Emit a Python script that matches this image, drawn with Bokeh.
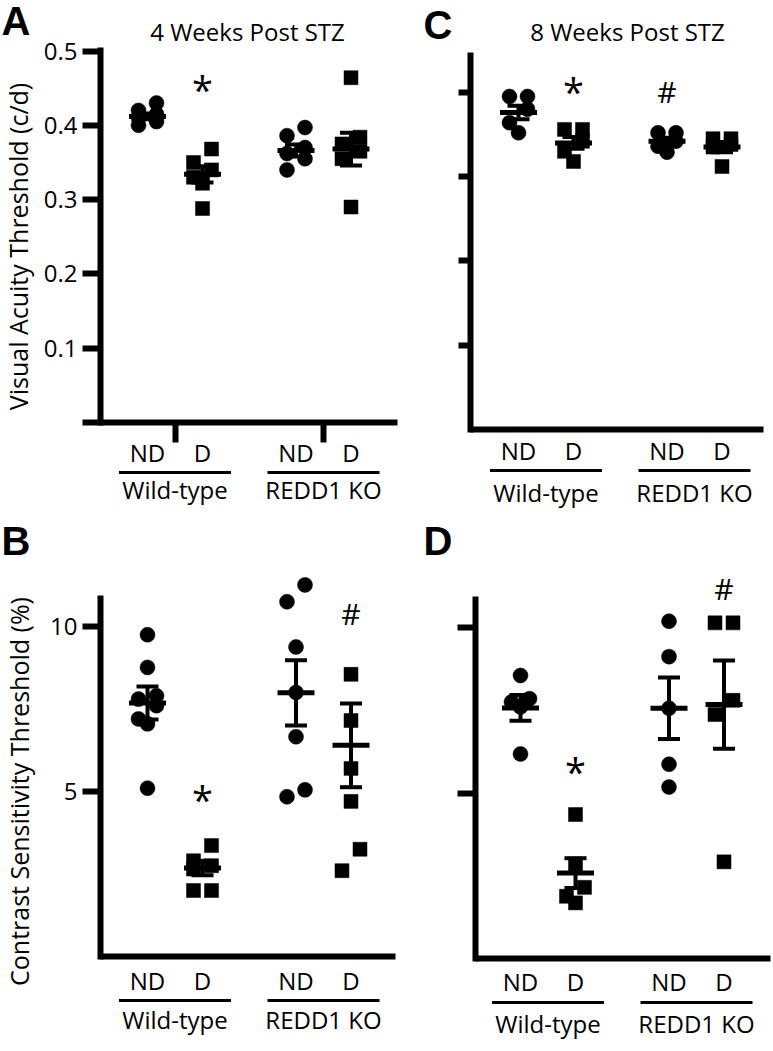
import math
from bokeh.plotting import figure
from bokeh.models import Range1d, FixedTicker, CustomJSTickFormatter
from bokeh.layouts import column, row
from bokeh.embed import file_html
from bokeh.resources import INLINE
from bokeh.core.properties import value

# ------------------------------------------------------------------ data
sub_labels = ["ND", "D", "ND", "D"]
group_names = ["Wild-type", "REDD1 KO"]
col_pos = [1.0, 2.0, 3.7, 4.7]
col_marker = ["circle", "square", "circle", "square"]

# A: visual acuity, 4 weeks
a_title = "4 Weeks Post STZ"
a_ylabel = "Visual Acuity Threshold (c/d)"
a_wt_nd = [0.43, 0.42, 0.415, 0.41, 0.405, 0.40]
a_wt_d = [0.368, 0.35, 0.34, 0.33, 0.322, 0.288]
a_ko_nd = [0.397, 0.386, 0.37, 0.362, 0.355, 0.34]
a_ko_d = [0.464, 0.384, 0.375, 0.365, 0.355, 0.29]
a_mean = [0.412, 0.334, 0.366, 0.368]
a_sem = [0.004, 0.011, 0.008, 0.022]
a_sig_col = [1]
a_sig_txt = ["*"]
a_sig_y = [0.456]
a_yticks = [0, 0.1, 0.2, 0.3, 0.4, 0.5]

# C: visual acuity, 8 weeks
c_title = "8 Weeks Post STZ"
c_wt_nd = [0.395, 0.395, 0.38, 0.364, 0.352]
c_wt_d = [0.356, 0.356, 0.342, 0.33, 0.318]
c_ko_nd = [0.352, 0.352, 0.342, 0.336, 0.329]
c_ko_d = [0.345, 0.345, 0.338, 0.335, 0.312]
c_mean = [0.376, 0.340, 0.342, 0.335]
c_sem = [0.008, 0.007, 0.004, 0.006]
c_sig_col = [1, 2]
c_sig_txt = ["*", "#"]
c_sig_y = [0.408, 0.399]
c_yticks = [0.1, 0.2, 0.3, 0.4]

# B: contrast sensitivity, 4 weeks
b_ylabel = "Contrast Sensitivity Threshold (%)"
b_wt_nd = [9.75, 8.76, 7.9, 7.8, 7.6, 7.2, 7.05, 5.1]
b_wt_d = [3.36, 2.9, 2.75, 2.65, 2.0, 2.0]
b_ko_nd = [11.26, 10.75, 9.38, 8.0, 6.66, 5.05, 4.84]
b_ko_d = [8.55, 7.15, 5.7, 4.7, 3.25, 2.6]
b_mean = [7.68, 2.68, 7.99, 6.4]
b_sem = [0.5, 0.22, 0.99, 1.27]
b_sig_col = [1, 3]
b_sig_txt = ["*", "#"]
b_sig_y = [4.94, 10.33]
b_yticks = [5, 10]

# D: contrast sensitivity, 8 weeks
d_wt_nd = [8.55, 7.85, 7.75, 7.6, 6.18]
d_wt_d = [4.35, 2.85, 2.15, 1.88, 1.68]
d_ko_nd = [10.19, 9.12, 7.56, 5.87, 5.18]
d_ko_d = [10.14, 10.14, 7.8, 7.37, 2.92]
d_mean = [7.57, 2.58, 7.56, 7.67]
d_sem = [0.39, 0.45, 0.93, 1.33]
d_sig_col = [1, 3]
d_sig_txt = ["*", "#"]
d_sig_y = [5.83, 11.12]
d_yticks = [5, 10]

# ------------------------------------------------------------------ style
FONT = "Open Sans"
LETTER_FONT = "Liberation Sans"
INK = "black"
PX_PER_COL = 55.0
BASE_FIX = 0.42   # em: shift of the rendered alphabetic baseline


def swarm_offsets(vals, ppu, h_px=22, dx_px=9):
    """Prism-like pairing: neighbouring values closer than h_px sit side by side."""
    order = sorted(range(len(vals)), key=lambda i: -vals[i])
    off = [0.0] * len(vals)
    i = 0
    while i < len(order):
        a = order[i]
        if i + 1 < len(order) and (vals[a] - vals[order[i + 1]]) * ppu <= h_px:
            b = order[i + 1]
            off[a] = dx_px
            off[b] = -dx_px
            i += 2
        else:
            i += 1
    return off


def make_panel(g, groups, means, sems, sig_col, sig_txt, sig_y, yticks, fmt,
               title=None, ylabel=None, letter=None):
    zero, ppu, col1 = g["zero"], g["ppu"], g["col1"]

    def dx(px):
        return 1.0 + (px - col1) / PX_PER_COL

    def dy(py):
        return (zero - py) / ppu

    p = figure(width=g["w"], height=g["h"],
               x_range=Range1d(dx(g["x0"]), dx(g["x0"] + g["w"])),
               y_range=Range1d(dy(g["y0"] + g["h"]), dy(g["y0"])),
               x_axis_location="below", y_axis_location="left",
               toolbar_location=None, output_backend="svg",
               min_border_left=0, min_border_right=0,
               min_border_top=0, min_border_bottom=0,
               outline_line_color=None, background_fill_color="white",
               border_fill_color="white")
    p.grid.visible = False

    # y axis, placed at its own x position inside the panel
    ax = p.yaxis[0]
    ax.fixed_location = dx(g["yaxis_px"])
    ax.ticker = FixedTicker(ticks=yticks)
    ax.formatter = CustomJSTickFormatter(code=fmt)
    ax.bounds = (-3.0 / ppu, dy(g["axis_top"]))
    ax.axis_line_width = 6
    ax.axis_line_color = INK
    ax.major_tick_line_width = 6
    ax.major_tick_line_color = INK
    ax.major_tick_in = 0
    ax.major_tick_out = g["tick_out"]
    ax.minor_tick_line_color = None
    ax.major_label_text_font = FONT
    ax.major_label_text_font_size = "24px"
    ax.major_label_text_color = INK
    ax.major_label_standoff = 5

    # x axis at zero
    gc = [(col_pos[0] + col_pos[1]) / 2, (col_pos[2] + col_pos[3]) / 2]
    xa = p.xaxis[0]
    xa.fixed_location = 0
    xa.bounds = (dx(g["yaxis_px"]), dx(g["xend_px"]))
    xa.ticker = FixedTicker(ticks=gc if g.get("xticks") else [])
    xa.formatter = CustomJSTickFormatter(code="return '';")
    xa.axis_line_width = 6
    xa.axis_line_color = INK
    xa.major_tick_line_width = 6
    xa.major_tick_line_color = INK
    xa.major_tick_in = 0
    xa.major_tick_out = 20
    xa.minor_tick_line_color = None

    def put_text(px, py_base, texts, fs, font=FONT, align="center", style="normal",
                 vertical=False):
        if vertical:
            xs_ = [dx(px - BASE_FIX * fs)] * len(texts)
            ys_ = [dy(py_base)] * len(texts)
            ang = math.pi / 2
        else:
            xs_ = px if isinstance(px, list) else [px] * len(texts)
            xs_ = [dx(v) for v in xs_]
            ys_ = [dy(py_base - BASE_FIX * fs)] * len(texts)
            ang = 0
        p.text(x=xs_, y=ys_, text=texts, angle=ang,
               text_font=value(font), text_font_size=f"{fs}px",
               text_font_style=style, text_align=align,
               text_baseline="alphabetic", text_color=INK)

    # points
    for k, vals in enumerate(groups):
        offs = swarm_offsets(vals, ppu)
        xpts = [col_pos[k] + o / PX_PER_COL for o in offs]
        size = 15 if col_marker[k] == "circle" else 14
        p.scatter(xpts, vals, marker=col_marker[k], size=size,
                  fill_color=INK, line_color=INK, line_width=0.5)

    # mean +- SEM
    lo = [m - s for m, s in zip(means, sems)]
    hi = [m + s for m, s in zip(means, sems)]
    p.segment(x0=col_pos, y0=lo, x1=col_pos, y1=hi, line_width=4, line_color=INK)
    p.scatter(col_pos + col_pos, lo + hi, marker="dash", size=22,
              line_width=4, line_color=INK)
    p.scatter(col_pos, means, marker="dash", size=37, line_width=5, line_color=INK)

    # significance marks (value = visual centre of the symbol)
    for c, t, yv in zip(sig_col, sig_txt, sig_y):
        fs = 38 if t == "*" else 30
        k = 0.566 if t == "*" else 0.357
        center_px = zero - yv * ppu
        base_px = center_px + k * fs
        p.text(x=[col_pos[c]], y=[dy(base_px - BASE_FIX * fs)], text=[t],
               text_font=value(FONT), text_font_size=f"{fs}px",
               text_align="center", text_baseline="alphabetic", text_color=INK)

    # category labels below the axis
    col_px = [col1 + (c - 1.0) * PX_PER_COL for c in col_pos]
    gc_px = [col1 + (c - 1.0) * PX_PER_COL for c in gc]
    put_text(col_px, g["label_base"], sub_labels, 24)
    half = 56 / PX_PER_COL
    uy = dy(g["line_y"])
    p.segment(x0=[c - half for c in gc], y0=[uy, uy], x1=[c + half for c in gc],
              y1=[uy, uy], line_width=3, line_color=INK)
    put_text(gc_px, g["group_base"], group_names, 24)

    if title:
        put_text(g["title_x"], 41, [title], 24)
    if letter:
        put_text(g["letter_x"], g["letter_base"], [letter], 40, font=LETTER_FONT,
                 align="left", style="bold")
    if ylabel:
        put_text(g["ylabel_base"], g["ylabel_cy"], [ylabel], 25, vertical=True)
    return p


gA = dict(x0=0, y0=0, w=398, h=520, yaxis_px=100, xend_px=397, zero=422, ppu=743.0,
          col1=147, axis_top=47, tick_out=18, xticks=True,
          label_base=462, line_y=472, group_base=499,
          title_x=247, letter_x=1, letter_base=37, ylabel_base=28, ylabel_cy=246)
gC = dict(x0=398, y0=0, w=375, h=520, yaxis_px=470, xend_px=763, zero=429, ppu=843.0,
          col1=518, axis_top=52, tick_out=12,
          label_base=460, line_y=470, group_base=502,
          title_x=627, letter_x=423, letter_base=41)
gB = dict(x0=0, y0=520, w=398, h=531, yaxis_px=100, xend_px=395, zero=956, ppu=33.0,
          col1=147, axis_top=595, tick_out=18,
          label_base=990, line_y=1000, group_base=1029,
          letter_x=1, letter_base=557, ylabel_base=29, ylabel_cy=791)
gD = dict(x0=398, y0=520, w=375, h=531, yaxis_px=475, xend_px=770, zero=958, ppu=33.1,
          col1=520, axis_top=596, tick_out=18,
          label_base=991, line_y=1002, group_base=1033,
          letter_x=423, letter_base=557)

pA = make_panel(gA, [a_wt_nd, a_wt_d, a_ko_nd, a_ko_d], a_mean, a_sem,
                a_sig_col, a_sig_txt, a_sig_y, a_yticks,
                "return tick > 0 ? tick.toFixed(1) : '';",
                title=a_title, ylabel=a_ylabel, letter="A")
pC = make_panel(gC, [c_wt_nd, c_wt_d, c_ko_nd, c_ko_d], c_mean, c_sem,
                c_sig_col, c_sig_txt, c_sig_y, c_yticks,
                "return '';", title=c_title, letter="C")
pB = make_panel(gB, [b_wt_nd, b_wt_d, b_ko_nd, b_ko_d], b_mean, b_sem,
                b_sig_col, b_sig_txt, b_sig_y, b_yticks,
                "return tick.toFixed(0);", ylabel=b_ylabel, letter="B")
pD = make_panel(gD, [d_wt_nd, d_wt_d, d_ko_nd, d_ko_d], d_mean, d_sem,
                d_sig_col, d_sig_txt, d_sig_y, d_yticks,
                "return '';", letter="D")

layout = column(row(pA, pC), row(pB, pD))
open("out.html", "w").write(file_html(layout, INLINE, "STZ figure"))
